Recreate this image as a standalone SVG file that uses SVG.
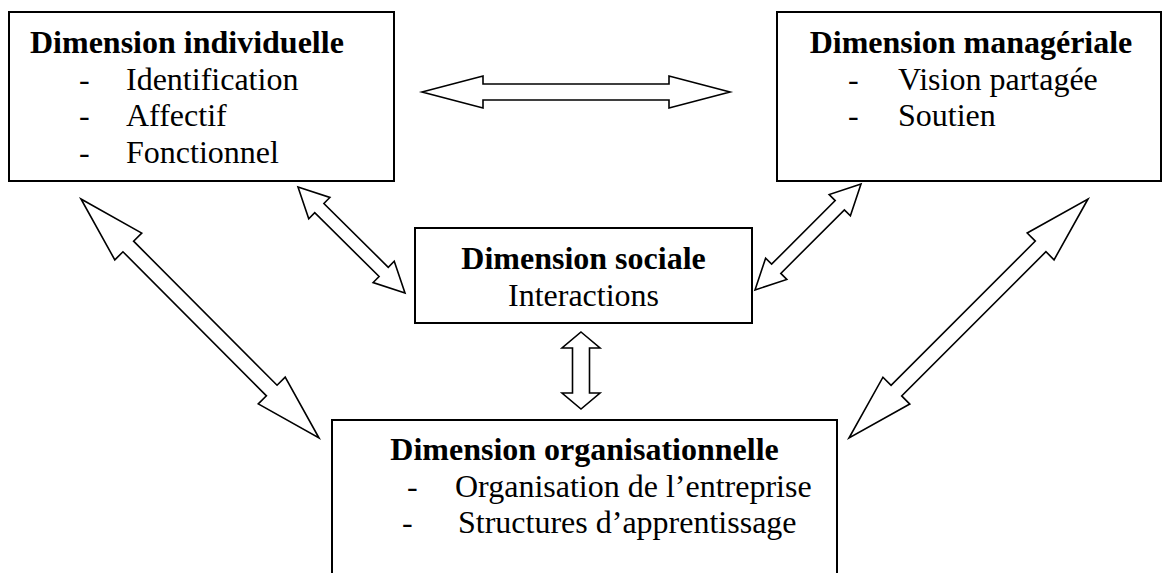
<svg xmlns="http://www.w3.org/2000/svg" width="1162" height="573" viewBox="0 0 1162 573">
<style>
.box{fill:#fff;stroke:#000;stroke-width:2}
.arr{fill:#fff;stroke:#000;stroke-width:1.6;stroke-linejoin:miter}
text{font-family:"Liberation Serif","Times New Roman",serif;font-size:32px;fill:#000}
.b{font-weight:bold}
.c{text-anchor:middle}
</style>
<rect width="1162" height="573" fill="#fff"/>
<g id="connectors">
<polygon class="arr" transform="translate(422,92)" points="0,0 61,-16 61,-8 247,-8 247,-16 308,0 247,16 247,8 61,8 61,16"/>
<polygon class="arr" transform="translate(581,332) rotate(90)" points="0,0 16,-19 16,-8.5 61,-8.5 61,-19 77,0 61,19 61,8.5 16,8.5 16,19"/>
<polygon class="arr" transform="translate(81,199) rotate(45.12)" points="0,0 67,-19 67,-7.5 270.3,-7.5 270.3,-19 337.3,0 270.3,19 270.3,7.5 67,7.5 67,19"/>
<polygon class="arr" transform="translate(298,187) rotate(44.73)" points="0,0 30,-15 30,-6.5 120.6,-6.5 120.6,-15 150.6,0 120.6,15 120.6,6.5 30,6.5 30,15"/>
<polygon class="arr" transform="translate(861,184) rotate(135)" points="0,0 30,-15 30,-6.5 119.9,-6.5 119.9,-15 149.9,0 119.9,15 119.9,6.5 30,6.5 30,15"/>
<polygon class="arr" transform="translate(1088,199) rotate(135)" points="0,0 67,-19 67,-7.5 271,-7.5 271,-19 338,0 271,19 271,7.5 67,7.5 67,19"/>
</g>
<g id="individuelle">
<rect class="box" x="9" y="12" width="385" height="169"/>
<text class="b" x="30" y="53">Dimension individuelle</text>
<text x="79" y="90">-</text><text x="126" y="90">Identification</text>
<text x="79" y="126">-</text><text x="126" y="126">Affectif</text>
<text x="79" y="163">-</text><text x="126" y="163">Fonctionnel</text>
</g>
<g id="manageriale">
<rect class="box" x="777" y="12" width="384" height="169"/>
<text class="b c" x="971" y="53">Dimension managériale</text>
<text x="848" y="90">-</text><text x="898" y="90">Vision partagée</text>
<text x="848" y="126">-</text><text x="898" y="126">Soutien</text>
</g>
<g id="sociale">
<rect class="box" x="415" y="228" width="337" height="95"/>
<text class="b c" x="583.5" y="269">Dimension sociale</text>
<text class="c" x="583.5" y="306">Interactions</text>
</g>
<g id="organisationnelle">
<rect class="box" x="332" y="420" width="505" height="170"/>
<text class="b c" x="584.5" y="460">Dimension organisationnelle</text>
<text x="407" y="497">-</text><text x="455" y="497">Organisation de l’entreprise</text>
<text x="402" y="533">-</text><text x="458" y="533">Structures d’apprentissage</text>
</g>
</svg>
